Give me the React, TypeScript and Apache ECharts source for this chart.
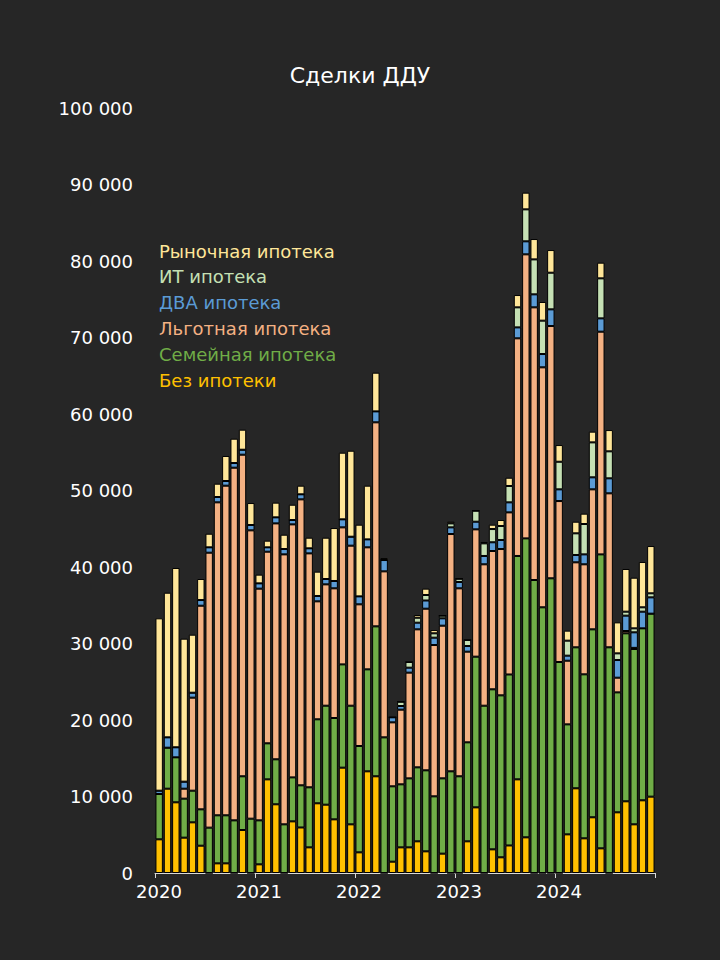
import React, { useEffect, useRef } from "react";
import * as echarts from "echarts";

// Months Jan 2020 .. Dec 2024
const months: string[] = [];
for (let y = 2020; y <= 2024; y++) for (let m = 1; m <= 12; m++) months.push(`${y}-${String(m).padStart(2, "0")}`);
const yearLabels = ["2020", "2021", "2022", "2023", "2024"];

const bezIpoteki = [
  4400, 11020, 9240, 4620, 6620, 3570, 0, 1260, 1260, 0, 5620, 0,
  1130, 12240, 8980, 0, 6750, 5950, 3350, 9110, 8930, 7010, 13770, 6360,
  2700, 13290, 12640, 0, 1480, 3350, 3350, 4140, 2830, 0, 2530, 0,
  0, 4140, 8580, 0, 3090, 2050, 3600, 12240, 4660, 0, 0, 0,
  0, 5050, 11070, 4530, 7280, 3220, 0, 7930, 9370, 6360, 9500, 9980,
];
const semeynaya = [
  5930, 5360, 5880, 5100, 4140, 4750, 5930, 6280, 6280, 6880, 7020, 7100,
  5750, 4710, 5880, 6360, 5750, 5510, 7850, 10980, 12940, 13250, 13500, 15510,
  13900, 13330, 19600, 17730, 9850, 8240, 9020, 9670, 10590, 10020, 9840, 13290,
  12640, 12940, 19700, 21870, 20920, 21170, 22350, 29200, 39080, 38300, 34730, 38520,
  27580, 14380, 18430, 21440, 24570, 38430, 29500, 15680, 21960, 22920, 22480, 23920,
];
const lgotnaya = [
  0, 0, 0, 1300, 12160, 26620, 35940, 40910, 43090, 46100, 42040, 37690,
  30290, 25050, 30840, 35290, 33070, 37380, 30580, 15420, 15860, 16950, 17910, 20920,
  18520, 15950, 26670, 21700, 8360, 9760, 13820, 18040, 21130, 19780, 19960, 31020,
  24570, 11850, 16640, 18480, 18080, 19130, 21190, 28450, 37130, 35640, 31370, 32980,
  21040, 8320, 11110, 14380, 18300, 29110, 20130, 1920, 300, 150, 0, 0,
];
const dva = [
  430, 1350, 1310, 920, 650, 740, 700, 700, 610, 610, 650, 700,
  690, 570, 790, 700, 570, 660, 660, 700, 700, 960, 1050, 1170,
  1040, 1040, 1430, 1480, 660, 480, 650, 870, 1070, 960, 960, 870,
  830, 740, 1000, 1090, 1140, 1180, 1310, 1430, 1700, 1700, 1740, 2180,
  1530, 660, 960, 1300, 1570, 1740, 1960, 2310, 2010, 2030, 2180, 2130,
];
const itIpoteka = [
  0, 0, 0, 0, 0, 0, 0, 0, 0, 0, 0, 0,
  0, 0, 0, 0, 0, 0, 0, 0, 0, 0, 0, 0,
  0, 0, 0, 0, 0, 560, 740, 650, 720, 570, 350, 520,
  430, 790, 1440, 1650, 1730, 1830, 2140, 2620, 4180, 4570, 4360, 4790,
  3610, 1960, 2830, 3970, 4570, 5230, 3530, 870, 520, 520, 570, 530,
];
const rynochnaya = [
  22530, 18910, 23440, 18690, 7580, 2750, 1780, 1740, 3270, 3180, 2620, 2870,
  1140, 870, 1920, 1870, 2000, 1130, 1390, 3180, 5400, 6920, 8710, 11240,
  9370, 7020, 5060, 260, 0, 0, 0, 350, 830, 430, 0, 220,
  0, 0, 0, 180, 570, 780, 1080, 1610, 2180, 2660, 2440, 2960,
  2180, 1310, 1520, 1350, 1400, 2050, 2780, 4050, 5580, 6620, 5920, 6180,
];

const seriesDefs = [
  { name: "Без ипотеки", data: bezIpoteki, color: "#FFC000" },
  { name: "Семейная ипотека", data: semeynaya, color: "#70AD47" },
  { name: "Льготная ипотека", data: lgotnaya, color: "#F4B183" },
  { name: "ДВА ипотека", data: dva, color: "#5B9BD5" },
  { name: "ИТ ипотека", data: itIpoteka, color: "#C5E0B4" },
  { name: "Рыночная ипотека", data: rynochnaya, color: "#FFE699" },
];

const FONT = "DejaVu Sans";

export default function App() {
  const ref = useRef<HTMLDivElement>(null);
  useEffect(() => {
    if (!ref.current) return;
    const chart = echarts.init(ref.current, null, { renderer: "svg" });
    const option = {
      animation: false,
      backgroundColor: "#262626",
      textStyle: { fontFamily: FONT },
      title: {
        text: "Сделки ДДУ",
        left: "center",
        top: 59,
        textStyle: { color: "#ffffff", fontSize: 22, fontWeight: "normal", fontFamily: FONT },
      },
      legend: {
        orient: "vertical",
        left: 148,
        top: 237,
        icon: "rect",
        itemWidth: 0,
        itemHeight: 0,
        itemGap: 7.8,
        selectedMode: false,
        textStyle: { fontSize: 18, fontFamily: FONT, lineHeight: 18 },
        data: seriesDefs
          .slice()
          .reverse()
          .map((s) => ({ name: s.name, textStyle: { color: s.color } })),
      },
      grid: { left: 155, right: 65, top: 108, bottom: 87 },
      xAxis: [
        {
          type: "category",
          data: months,
          boundaryGap: true,
          show: false,
        },
        {
          type: "value",
          min: 0,
          max: months.length,
          interval: 12,
          position: "bottom",
          axisLine: { show: true, lineStyle: { color: "#d9d9d9", width: 1 } },
          axisTick: { show: true, length: 5, lineStyle: { color: "#d9d9d9" } },
          splitLine: { show: false },
          axisLabel: {
            color: "#ffffff",
            fontSize: 18,
            fontFamily: FONT,
            margin: 9,
            padding: [0, 0, 0, 8],
            formatter: (v: number) => yearLabels[Math.round(v / 12)] ?? "",
          },
        },
      ],
      yAxis: {
        type: "value",
        min: 0,
        max: 100000,
        interval: 10000,
        axisLine: { show: false },
        axisTick: { show: false },
        splitLine: { show: false },
        axisLabel: {
          color: "#ffffff",
          fontSize: 18,
          fontFamily: FONT,
          margin: 22,
          formatter: (v: number) => String(v).replace(/\B(?=(\d{3})+(?!\d))/g, " "),
        },
      },
      series: seriesDefs.map((s) => ({
        name: s.name,
        type: "bar",
        stack: "total",
        xAxisIndex: 0,
        barWidth: 7.4,
        itemStyle: { color: s.color, borderColor: "#000000", borderWidth: 1 },
        data: s.data,
      })),
    };
    chart.setOption(option as any);
    return () => chart.dispose();
  }, []);
  return (
    <div
      ref={ref}
      style={{ position: "fixed", left: 0, top: 0, width: 720, height: 960, background: "#262626" }}
    />
  );
}
